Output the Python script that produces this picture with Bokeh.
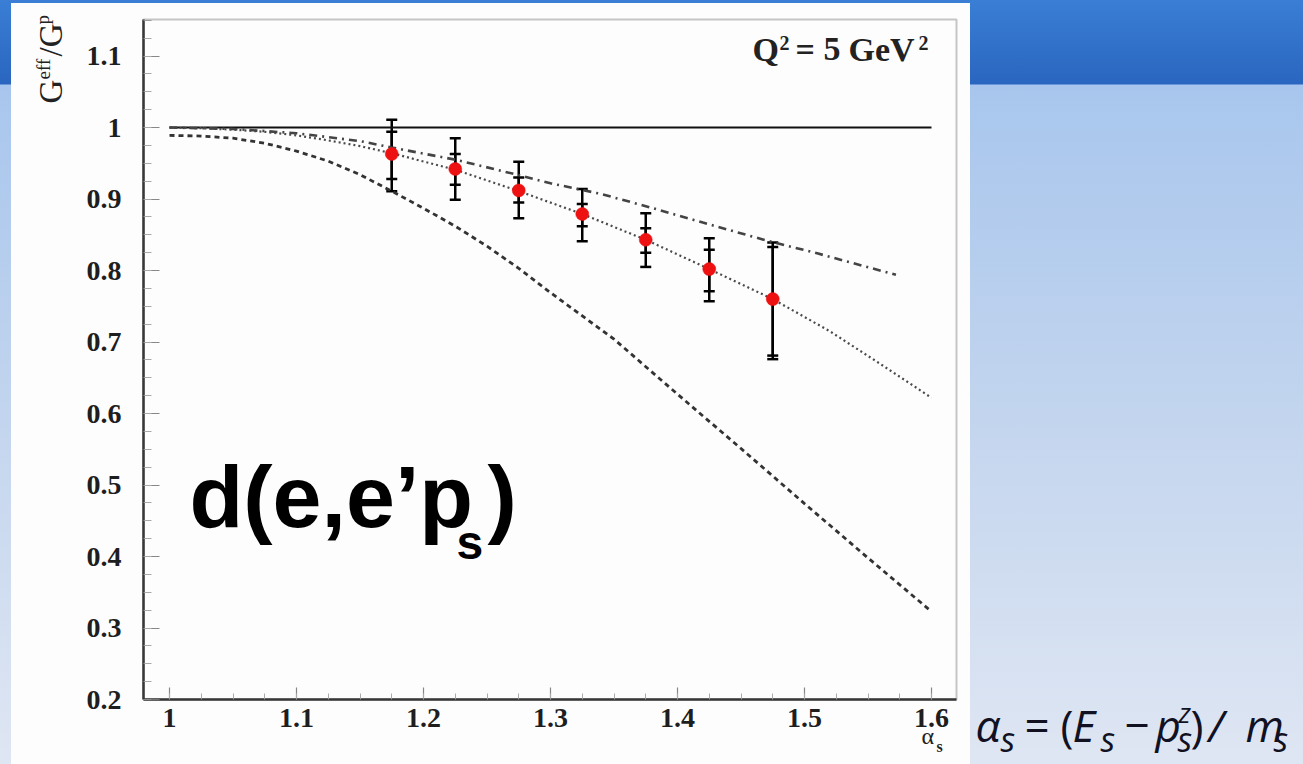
from math import pi

import numpy as np
from bokeh.embed import file_html
from bokeh.models import (BoxAnnotation, ColumnDataSource, CustomJSTickFormatter,
                          FixedTicker, Label, Range1d, TeeHead, Whisker)
from bokeh.plotting import figure
from bokeh.resources import INLINE

# ---- measured G_eff / G_p versus light-cone fraction alpha_s ----
alpha_pts = [1.175, 1.225, 1.275, 1.325, 1.375, 1.425, 1.475]
ratio_pts = [0.963, 0.942, 0.912, 0.879, 0.843, 0.802, 0.760]
stat_hi = [0.994, 0.963, 0.930, 0.893, 0.859, 0.829, 0.833]
stat_lo = [0.928, 0.920, 0.895, 0.862, 0.825, 0.771, 0.681]
tot_hi = [1.011, 0.985, 0.952, 0.914, 0.880, 0.845, 0.839]
tot_lo = [0.911, 0.899, 0.873, 0.841, 0.805, 0.757, 0.676]

# ---- model curves ----
alpha_free = [1.0, 1.6]
ratio_free = [1.0, 1.0]

alpha_dot = [1.0, 1.025, 1.05, 1.075, 1.10, 1.125, 1.15, 1.175, 1.225, 1.275,
             1.325, 1.375, 1.425, 1.475, 1.52, 1.56, 1.60]
ratio_dot = [1.000, 0.999, 0.997, 0.994, 0.989, 0.982, 0.974, 0.964, 0.941, 0.911,
             0.879, 0.843, 0.802, 0.760, 0.715, 0.669, 0.622]

alpha_dd = [1.0, 1.05, 1.10, 1.15, 1.175, 1.225, 1.26, 1.30, 1.34, 1.373, 1.42,
            1.47, 1.51, 1.572]
ratio_dd = [1.000, 0.998, 0.992, 0.981, 0.972, 0.955, 0.940, 0.922, 0.907, 0.891,
            0.867, 0.842, 0.824, 0.794]

alpha_dash = [1.0, 1.025, 1.05, 1.075, 1.10, 1.125, 1.15, 1.175, 1.20, 1.225, 1.25,
              1.275, 1.30, 1.35, 1.40, 1.45, 1.50, 1.55, 1.60]
ratio_dash = [0.989, 0.988, 0.985, 0.978, 0.967, 0.953, 0.934, 0.911, 0.887, 0.862,
              0.834, 0.803, 0.769, 0.704, 0.627, 0.551, 0.474, 0.398, 0.323]

# ---- axis ticks ----
x_major = [1.0, 1.1, 1.2, 1.3, 1.4, 1.5, 1.6]
y_major = [0.2, 0.3, 0.4, 0.5, 0.6, 0.7, 0.8, 0.9, 1.0, 1.1]
x_minor = list(np.round(np.arange(1.0, 1.62, 0.025), 3))
y_minor = list(np.round(np.arange(0.2, 1.16, 0.025), 3))

# ---- page geometry (pixels) ----
W, H = 1303, 764
PX_A1, PX_PER_A = 169.0, 1270.0      # screen x of alpha = 1, px per unit alpha
PY_G1, PX_PER_G = 127.0, 715.0       # screen y of ratio = 1, px per unit ratio


def ax(px):
    return 1.0 + (px - PX_A1) / PX_PER_A


def ay(py):
    return 1.0 - (py - PY_G1) / PX_PER_G


# plotting box of the chart
BX0, BX1, BY0, BY1 = ax(143), ax(956), ay(699), ay(19)

p = figure(width=W, height=H, output_backend="svg", toolbar_location=None,
           x_range=Range1d(ax(0), ax(W)), y_range=Range1d(ay(H), ay(0)),
           min_border=0, min_border_left=0, min_border_right=0,
           min_border_top=0, min_border_bottom=0)

p.border_fill_color = None
p.background_fill_color = None
p.outline_line_color = None
p.styles = {
    "background": (
        "linear-gradient(#fdfdfd, #fdfdfd) 11px 3px / 959px 761px no-repeat, "
        "linear-gradient(to bottom, #3a7ed5 0px, #2a66bf 84px, #a8c6ed 85px, "
        "#c3d5ee 420px, #dfe6f3 764px)"
    )
}
p.xgrid.visible = False
p.ygrid.visible = False

# chart box (top and right edges; left/bottom are the axis lines)
p.add_layout(BoxAnnotation(left=BX0, right=BX1, bottom=BY0, top=BY1,
                           fill_color=None, line_color="#444444", line_width=2))

fmt = CustomJSTickFormatter(code="return Number(tick.toFixed(2)).toString();")
p.xaxis.fixed_location = BY0
p.yaxis.fixed_location = BX0
p.xaxis.bounds = (BX0, BX1)
p.yaxis.bounds = (BY0, BY1)
for axis, ticks, minor, tin, mtin, stand in (
        (p.xaxis, x_major, x_minor, 12, 6, 9),
        (p.yaxis, y_major, y_minor, 16, 8, 22)):
    axis.ticker = FixedTicker(ticks=ticks, minor_ticks=minor)
    axis.formatter = fmt
    axis.axis_line_color = "#333333"
    axis.axis_line_width = 2.5
    axis.major_tick_in = tin
    axis.major_tick_out = 0
    axis.minor_tick_in = mtin
    axis.minor_tick_out = 0
    axis.major_tick_line_color = "#888888"
    axis.minor_tick_line_color = "#aaaaaa"
    axis.major_tick_line_width = 1.2
    axis.minor_tick_line_width = 1
    axis.major_label_standoff = stand
    axis.major_label_text_font = "Liberation Serif"
    axis.major_label_text_font_style = "bold"
    axis.major_label_text_font_size = "28px"
    axis.major_label_text_color = "#1e1e1e"

# model curves
p.line(alpha_free, ratio_free, line_color="#111111", line_width=2)
p.line(alpha_dash, ratio_dash, line_color="#333333", line_width=2.8, line_dash="5 4")
p.line(alpha_dot, ratio_dot, line_color="#4a4a4a", line_width=2.2, line_dash="2 3")
p.line(alpha_dd, ratio_dd, line_color="#444444", line_width=2.6, line_dash="8 5 2 5")

# error bars and data points
src = ColumnDataSource(dict(a=alpha_pts, r=ratio_pts, sh=stat_hi, sl=stat_lo,
                            th=tot_hi, tl=tot_lo))
for hi, lo in (("th", "tl"), ("sh", "sl")):
    p.add_layout(Whisker(source=src, base="a", upper=hi, lower=lo,
                         dimension="height", line_color="black", line_width=2.5,
                         upper_head=TeeHead(size=11, line_width=2.5, line_color="black"),
                         lower_head=TeeHead(size=11, line_width=2.5, line_color="black")))
p.scatter("a", "r", source=src, size=13, fill_color="#ee1111", line_color="#ee1111",
          line_width=0.5)

BASE_SHIFT = 0.39  # label anchor sits this many em above the drawn baseline


def add_text(px, py, text, size, font="Liberation Serif", style="normal",
             color="#222222", angle=0):
    if angle:
        px -= BASE_SHIFT * size
    else:
        py -= BASE_SHIFT * size
    p.add_layout(Label(x=ax(px), y=ay(py), text=text, text_font=font,
                       text_font_style=style, text_font_size=f"{size}px",
                       text_color=color, angle=angle, text_align="left",
                       text_baseline="alphabetic"))


# y-axis title  G^eff / G^p (reads upward)
add_text(63, 103, "G", 33, angle=pi / 2)
add_text(50, 79, "eff", 19, angle=pi / 2)
add_text(63, 56, "/G", 33, angle=pi / 2)
add_text(49, 24, "p", 19, angle=pi / 2)

# x-axis title  alpha_s
add_text(921, 745, "α", 24)
add_text(936, 752, "s", 16, style="bold")

# kinematics tag
add_text(752, 62, "Q", 34, style="bold")
add_text(779, 50, "2", 20, style="bold")
add_text(795, 62, "=", 34, style="bold")
add_text(823, 62, "5", 34, style="bold")
add_text(848, 62, "GeV", 34, style="bold")
add_text(918, 50, "2", 20, style="bold")

# reaction label
add_text(189, 530, "d(e,e’p", 88, font="Liberation Sans", style="bold", color="black")
add_text(456, 561, "s", 48, font="Liberation Sans", style="bold", color="black")
add_text(487, 530, ")", 88, font="Liberation Sans", style="bold", color="black")

# definition of alpha_s
fc = "#111122"
MAIN, SUB, SUP = 44, 34, 28
BL, BL_SUB, BL_SUP = 742, 752, 722
add_text(975, BL, "α", MAIN, font="Open Sans", style="italic", color=fc)
add_text(1000, BL_SUB, "s", SUB, font="Open Sans", style="italic", color=fc)
add_text(1024, BL, "=", MAIN, font="Open Sans", color=fc)
add_text(1060, BL, "(", MAIN, font="Open Sans", color=fc)
add_text(1072, BL, "E", MAIN, font="Open Sans", style="italic", color=fc)
add_text(1100, BL_SUB, "s", SUB, font="Open Sans", style="italic", color=fc)
add_text(1124, BL, "−", MAIN, font="Open Sans", color=fc)
add_text(1155, BL, "p", MAIN, font="Open Sans", style="italic", color=fc)
add_text(1178, BL_SUP, "z", SUP, font="Open Sans", style="italic", color=fc)
add_text(1177, BL_SUB, "s", SUB, font="Open Sans", style="italic", color=fc)
add_text(1190, BL, ")", MAIN, font="Open Sans", color=fc)
add_text(1208, BL, "/", MAIN, font="Open Sans", style="italic", color=fc)
add_text(1245, BL, "m", MAIN, font="Open Sans", style="italic", color=fc)
add_text(1273, BL_SUB, "s", SUB, font="Open Sans", style="italic", color=fc)

open("out.html", "w").write(file_html(p, INLINE))
